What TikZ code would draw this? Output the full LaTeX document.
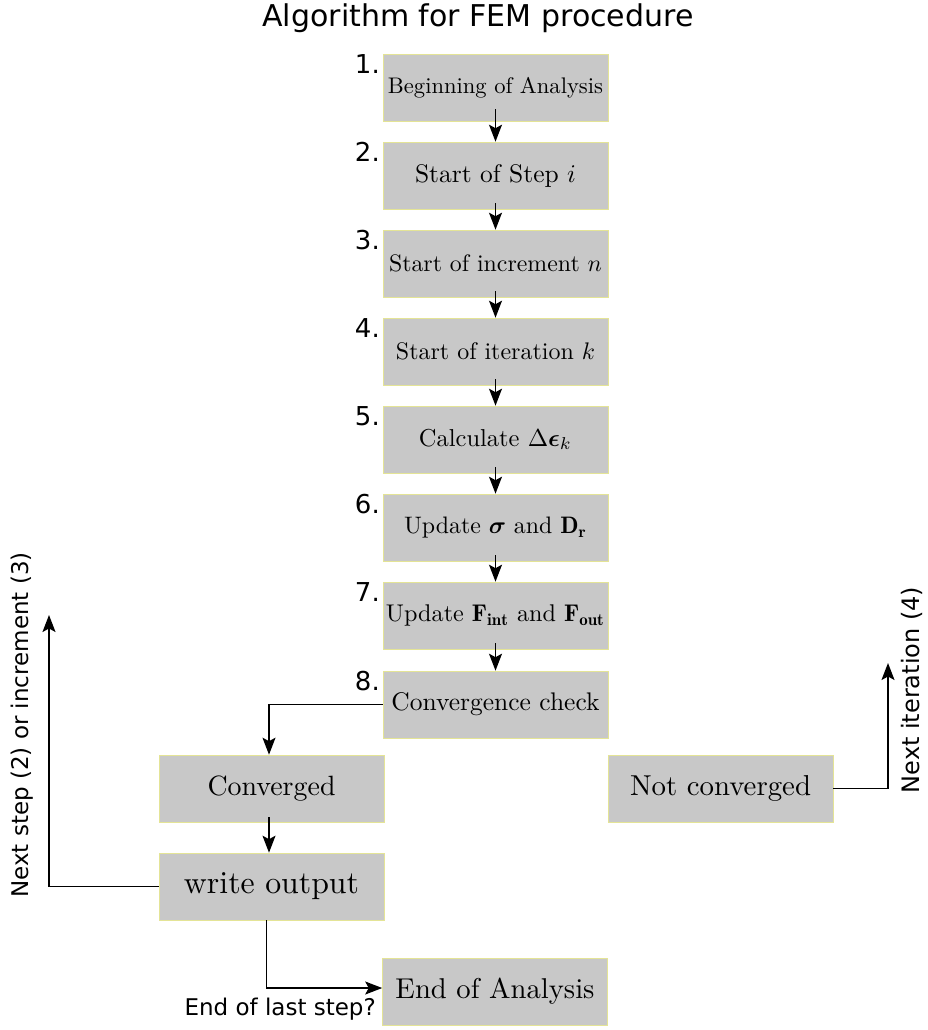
\documentclass[tikz,border=0pt]{standalone}
\usepackage{amsmath,bm}
\usepackage{fontspec}
\newfontfamily\labfont{DejaVu Sans}
\usetikzlibrary{arrows.meta}
\definecolor{boxgray}{RGB}{200,200,200}
\definecolor{boxedge}{RGB}{228,228,150}
\newcommand{\fitw}[2]{\resizebox{#1}{!}{#2}}
\tikzset{
  stepbox/.style={rectangle, fill=boxgray, draw=boxedge, line width=0.6pt,
    minimum width=225pt, minimum height=67pt, inner sep=0pt},
  numlab/.style={font=\labfont\fontsize{26}{26}\selectfont, anchor=north east, inner sep=0pt},
  sidelab/.style={font=\labfont\fontsize{23}{23}\selectfont, inner sep=0pt},
  arr/.style={line width=1.4pt, -{Stealth[length=17pt,width=13pt,inset=3.5pt]}}
}
\begin{document}
\begin{tikzpicture}[x=1pt,y=-1pt]
\useasboundingbox (0,0) rectangle (927,1030);
% title
\node[font=\labfont\fontsize{30}{30}\selectfont, anchor=base, inner sep=0pt] (title) at (478,27) {Algorithm for FEM procedure};
% main column
\node[stepbox] (b1) at (495.5,87.5) {\fitw{215pt}{Beginning of Analysis}};
\node[stepbox] (b2) at (495.5,175.5) {\fitw{161pt}{Start of Step $i$}};
\node[stepbox] (b3) at (495.5,263.5) {\fitw{213pt}{Start of increment $n$}};
\node[stepbox] (b4) at (495.5,351.5) {\fitw{199pt}{Start of iteration $k$}};
\node[stepbox] (b5) at (495.5,439.5) {\fitw{153pt}{Calculate $\Delta\boldsymbol{\epsilon}_k$}};
\node[stepbox] (b6) at (495.5,527.5) {\fitw{183pt}{Update $\boldsymbol{\sigma}$ and $\mathbf{D}_{\mathbf{r}}$}};
\node[stepbox] (b7) at (495.5,615.5) {\fitw{219pt}{Update $\mathbf{F}_{\mathbf{int}}$ and $\mathbf{F}_{\mathbf{out}}$}};
\node[stepbox] (b8) at (495.5,704.5) {\fitw{208pt}{Convergence check}};
\node[stepbox] (conv) at (271.5,788.5) {\fitw{128pt}{Converged}};
\node[stepbox] (wo) at (271.5,886.5) {\fitw{175pt}{write output}};
\node[stepbox] (end) at (495,991.5) {\fitw{199pt}{End of Analysis}};
\node[stepbox] (nc) at (720.5,788.5) {\fitw{181pt}{Not converged}};
% numbers
\node[numlab] (n1) at (380,54) {1.};
\node[numlab] (n2) at (380,142) {2.};
\node[numlab] (n3) at (380,230) {3.};
\node[numlab] (n4) at (380,318) {4.};
\node[numlab] (n5) at (380,406) {5.};
\node[numlab] (n6) at (380,494) {6.};
\node[numlab] (n7) at (380,582) {7.};
\node[numlab] (n8) at (380,671) {8.};
% side labels
\node[sidelab, rotate=90] (l1) at (22,725) {Next step (2) or increment (3)};
\node[sidelab, rotate=90, font=\labfont\fontsize{24}{24}\selectfont] (l2) at (912,690) {Next iteration (4)};
\node[sidelab, anchor=north east] (l3) at (376,998) {End of last step?};
% connectors
\draw[arr] ([yshift=12pt]b1.south) -- (b2.north);
\draw[arr] ([yshift=6pt]b2.south) -- (b3.north);
\draw[arr] ([yshift=6pt]b3.south) -- (b4.north);
\draw[arr] ([yshift=6pt]b4.south) -- (b5.north);
\draw[arr] ([yshift=6pt]b5.south) -- (b6.north);
\draw[arr] ([yshift=6pt]b6.south) -- (b7.north);
\draw[arr] ([yshift=6pt]b7.south) -- (b8.north);
\draw[arr] (b8.west) -| ([xshift=-2.5pt]conv.north);
\draw[arr] ([xshift=-2.5pt,yshift=5pt]conv.south) -- ([xshift=-2.5pt]wo.north);
\coordinate (up1) at (49,615);
\draw[arr] (wo.west) -| (up1);
\draw[arr] ([xshift=-5pt]wo.south) |- ([yshift=3.5pt]end.west);
\coordinate (up2) at (888,663);
\draw[arr] (nc.east) -| (up2);
\end{tikzpicture}
\end{document}
